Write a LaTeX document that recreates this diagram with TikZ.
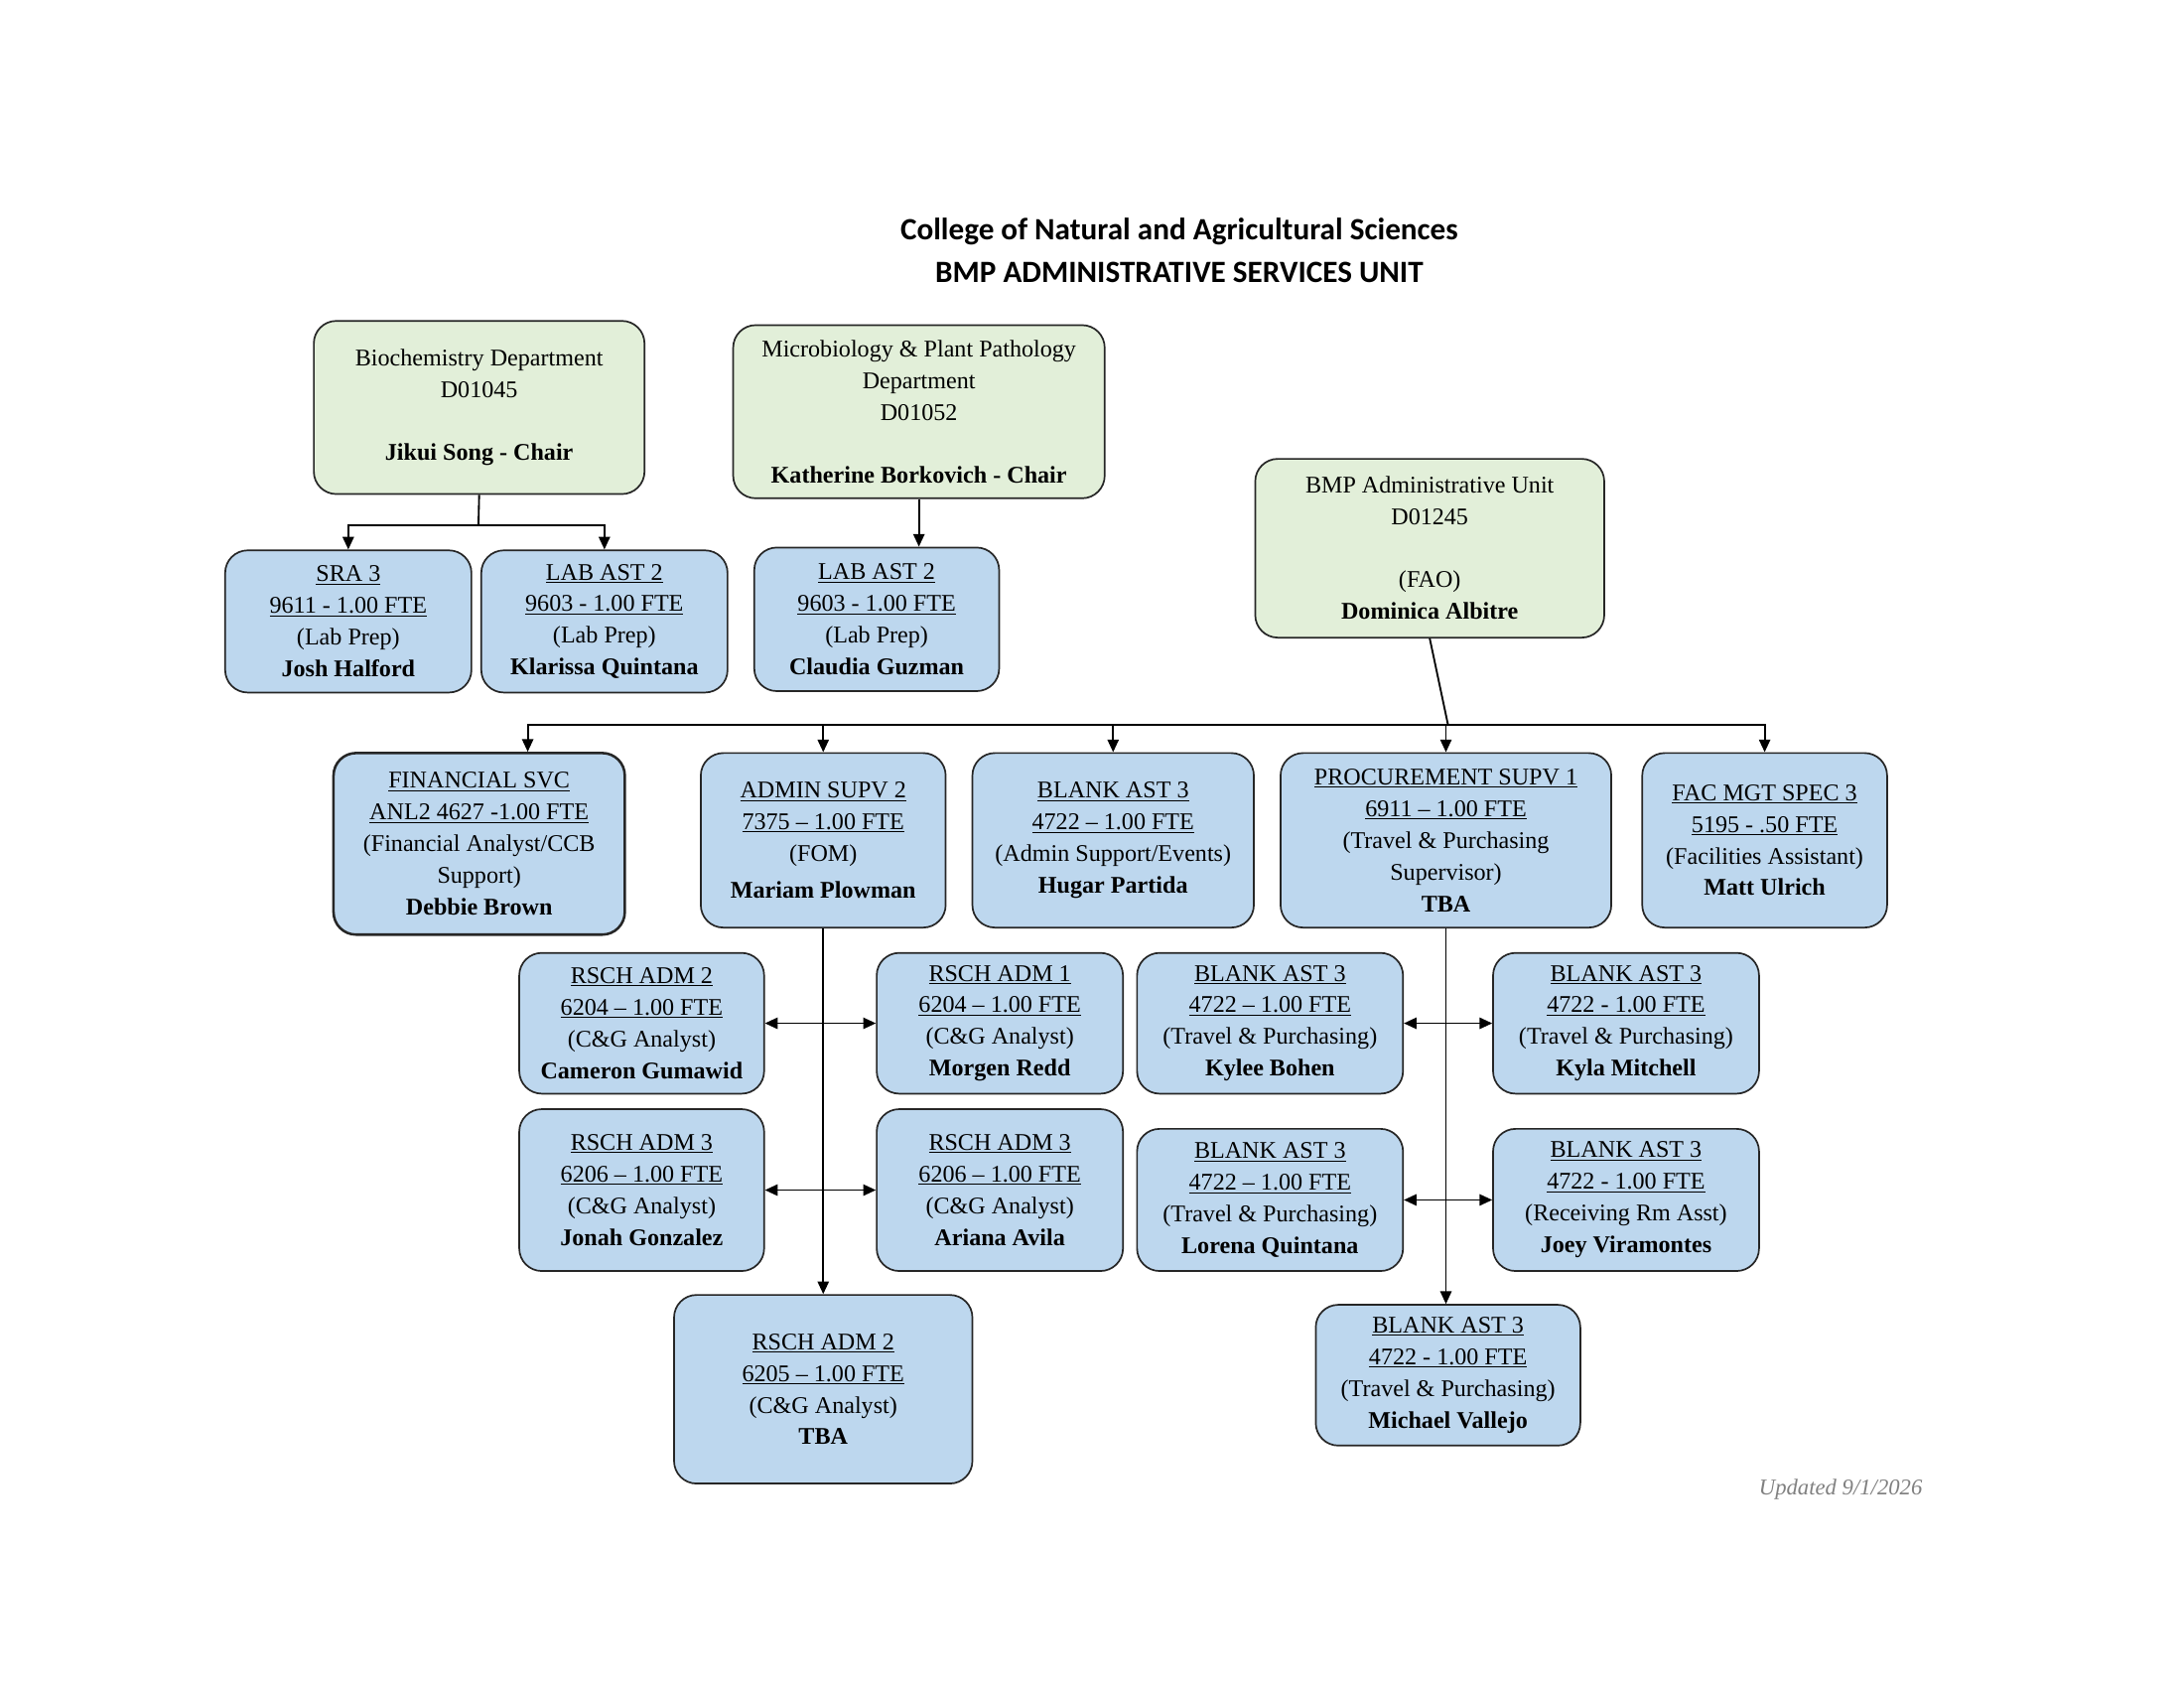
\documentclass[tikz,border=0pt]{standalone}
\usepackage{fontspec}
\setmainfont{Liberation Serif}
\newfontfamily\titlefont{Carlito}
\usetikzlibrary{arrows.meta}
\definecolor{gbox}{HTML}{E2EFD9}
\definecolor{bbox}{HTML}{BDD7EE}
\begin{document}
\begin{tikzpicture}[x=1pt,y=-1pt,
  box/.style={draw=black!85,line width=1.2pt,rounded corners=16pt,align=center,inner sep=0pt,
    font=\fontsize{17}{22.5}\selectfont},
  gb/.style={box,fill=gbox},
  bb/.style={box,fill=bbox},
  arr/.style={line width=1.3pt,-{Triangle[length=9pt,width=8pt]}},
  darr/.style={line width=1.3pt,{Triangle[length=9pt,width=8pt]}-{Triangle[length=9pt,width=8pt]}},
  ln/.style={line width=1.3pt}]
\useasboundingbox (0,0) rectangle (1552,1200);
\newcommand\bx[7]{\node[#1,minimum width={#4-#3},minimum height={#6-#5}] (#2) at ({(#3+#4)/2},{(#5+#6)/2}) {#7};}
\node[font=\titlefont\bfseries\fontsize{22}{30}\selectfont,align=center] (title) at (838,178) {College of Natural and Agricultural Sciences\\BMP ADMINISTRATIVE SERVICES UNIT};
\bx{gb}{bio}{223}{458}{228}{351}{Biochemistry Department\\D01045\\[22pt]\textbf{Jikui Song - Chair}}
\bx{gb}{mic}{521}{785}{231}{354}{Microbiology \& Plant Pathology\\Department\\D01052\\[22pt]\textbf{Katherine Borkovich - Chair}}
\bx{gb}{bmp}{892}{1140}{326}{453}{BMP Administrative Unit\\D01245\\[22pt](FAO)\\\textbf{Dominica Albitre}}
\bx{bb}{sra}{160}{335}{391}{492}{\underline{SRA 3}\\\underline{9611 - 1.00 FTE}\\(Lab Prep)\\\textbf{Josh Halford}}
\bx{bb}{lab1}{342}{517}{391}{492}{\underline{LAB AST 2}\\\underline{9603 - 1.00 FTE}\\(Lab Prep)\\\textbf{Klarissa Quintana}}
\bx{bb}{lab2}{536}{710}{389}{491}{\underline{LAB AST 2}\\\underline{9603 - 1.00 FTE}\\(Lab Prep)\\\textbf{Claudia Guzman}}
\bx{bb,line width=1.8pt}{fin}{237}{444}{535}{664}{\underline{FINANCIAL SVC}\\\underline{ANL2 4627 -1.00 FTE}\\(Financial Analyst/CCB\\Support)\\\textbf{Debbie Brown}}
\bx{bb}{adm}{498}{672}{535}{659}{\underline{ADMIN SUPV 2}\\\underline{7375 -- 1.00 FTE}\\(FOM)\\[4pt]\textbf{Mariam Plowman}}
\bx{bb}{bla}{691}{891}{535}{659}{\underline{BLANK AST 3}\\\underline{4722 -- 1.00 FTE}\\(Admin Support/Events)\\\textbf{Hugar Partida}}
\bx{bb}{pro}{910}{1145}{535}{659}{\underline{PROCUREMENT SUPV 1}\\\underline{6911 -- 1.00 FTE}\\(Travel \& Purchasing\\Supervisor)\\\textbf{TBA}}
\bx{bb}{fac}{1167}{1341}{535}{659}{\underline{FAC MGT SPEC 3}\\\underline{5195 - .50 FTE}\\(Facilities Assistant)\\\textbf{Matt Ulrich}}
\bx{bb}{ra2}{369}{543}{677}{777}{\underline{RSCH ADM 2}\\\underline{6204 -- 1.00 FTE}\\(C\&G Analyst)\\\textbf{Cameron Gumawid}}
\bx{bb}{ra1}{623}{798}{677}{777}{\underline{RSCH ADM 1}\\\underline{6204 -- 1.00 FTE}\\(C\&G Analyst)\\\textbf{Morgen Redd}}
\bx{bb}{kb}{808}{997}{677}{777}{\underline{BLANK AST 3}\\\underline{4722 -- 1.00 FTE}\\(Travel \& Purchasing)\\\textbf{Kylee Bohen}}
\bx{bb}{km}{1061}{1250}{677}{777}{\underline{BLANK AST 3}\\\underline{4722 - 1.00 FTE}\\(Travel \& Purchasing)\\\textbf{Kyla Mitchell}}
\bx{bb}{jg}{369}{543}{788}{903}{\underline{RSCH ADM 3}\\\underline{6206 -- 1.00 FTE}\\(C\&G Analyst)\\\textbf{Jonah Gonzalez}}
\bx{bb}{aa}{623}{798}{788}{903}{\underline{RSCH ADM 3}\\\underline{6206 -- 1.00 FTE}\\(C\&G Analyst)\\\textbf{Ariana Avila}}
\bx{bb}{lq}{808}{997}{802}{903}{\underline{BLANK AST 3}\\\underline{4722 -- 1.00 FTE}\\(Travel \& Purchasing)\\\textbf{Lorena Quintana}}
\bx{bb}{jv}{1061}{1250}{802}{903}{\underline{BLANK AST 3}\\\underline{4722 - 1.00 FTE}\\(Receiving Rm Asst)\\\textbf{Joey Viramontes}}
\bx{bb}{tba}{479}{691}{920}{1054}{\underline{RSCH ADM 2}\\\underline{6205 -- 1.00 FTE}\\(C\&G Analyst)\\\textbf{TBA}}
\bx{bb}{mv}{935}{1123}{927}{1027}{\underline{BLANK AST 3}\\\underline{4722 - 1.00 FTE}\\(Travel \& Purchasing)\\\textbf{Michael Vallejo}}
\node[font=\itshape\fontsize{16}{20}\selectfont,text=black!50] (upd) at (1308,1058) {Updated 9/1/2026};
% connectors
\coordinate (j1) at (340,373);
\draw[ln] (bio.south) -- (j1);
\draw[arr] (j1) -| (sra.north);
\draw[arr] (j1) -| (lab1.north);
\draw[arr] (mic.south) -- (mic.south|-lab2.north);
\coordinate (j2) at (1029,515);
\draw[ln] (bmp.south) -- (j2);
\draw[arr] (j2) -| (fin.north -| 375,0);
\draw[arr] (j2) -| (adm.north);
\draw[arr] (j2) -| (bla.north);
\draw[arr] (j2) -| (pro.north);
\draw[arr] (j2) -| (fac.north);
\draw[arr] (adm.south) -- (adm.south|-tba.north);
\draw[arr] (pro.south) -- (pro.south|-mv.north);
\draw[darr] (ra2.east) -- (ra1.west);
\draw[darr] (jg.east) -- (aa.west);
\draw[darr] (kb.east) -- (km.west);
\draw[darr] (lq.east) -- (jv.west);
\end{tikzpicture}
\end{document}
